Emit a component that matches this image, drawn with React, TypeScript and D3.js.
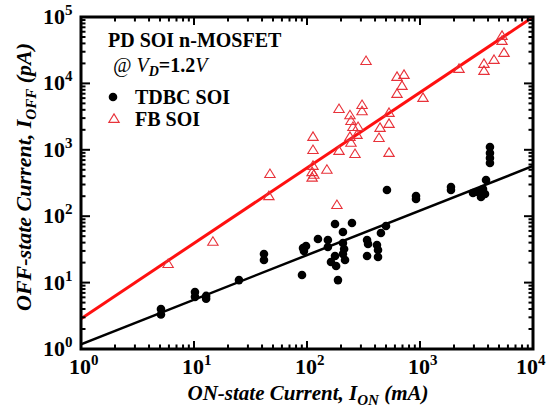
import React from "react";
import * as d3 from "d3";

// FB SOI (red open triangles): [I_ON (mA), I_OFF (pA)]
const fbOn = [5.9, 14.7, 47, 46, 113, 113, 113, 111, 115, 111, 150, 184, 192, 192, 240, 245, 255, 283, 240, 245, 277, 266, 307, 307, 333, 443, 434, 532, 532, 532, 626, 722, 693, 626, 1063, 2215, 3683, 3683, 4520, 5540, 5320, 5320];
const fbOff = [19, 41, 430, 200, 1560, 990, 570, 460, 420, 380, 500, 147, 4100, 960, 3300, 2700, 2200, 2200, 1560, 1270, 1670, 860, 4700, 3800, 21700, 2130, 1500, 3580, 2450, 895, 12500, 13400, 9140, 6920, 6030, 16480, 19600, 15400, 22500, 28700, 51800, 43500];

// TDBC SOI (black filled circles)
const tdbcOn = [5.1, 5.1, 10.2, 10.2, 12.8, 12.8, 25, 41.6, 41.6, 92.2, 94, 98, 90.3, 125, 153, 153, 177, 250, 208, 208, 213, 208, 177, 163, 181, 217, 188, 340, 347, 340, 416, 425, 451, 500, 425, 510, 922, 922, 1880, 1880, 2945, 3260, 3467, 3610, 3840, 3760, 4160, 4160, 4160, 4160];
const tdbcOff = [4.0, 3.3, 7.2, 6.1, 6.3, 5.7, 10.9, 27, 21.9, 33.2, 29.9, 35.6, 13, 45.4, 43.8, 34.4, 76.3, 79, 57.8, 39.5, 32.1, 27, 25.2, 20.4, 17.8, 21.9, 10.9, 43.8, 38.1, 25.2, 36.8, 31, 55.8, 71.2, 24.3, 248, 201, 182, 275, 248, 224, 231, 195, 257, 351, 216, 1100, 895, 753, 633];

// Fit lines: endpoints [x, y]
const fbFitX = [1, 10000];
const fbFitY = [2.86, 100000];
const tdbcFitX = [1, 10000];
const tdbcFitY = [1.18, 570];

const xTickExps = [0, 1, 2, 3, 4];
const yTickExps = [0, 1, 2, 3, 4, 5];

const W = 548, H = 414;
const L = 81, R = 533, T = 17, B = 349;
const RED = "#ff1010";
const TRI = "#e8323a";
const FONT = "'Liberation Serif', 'Times New Roman', serif";

export default function App() {
  const x = d3.scaleLog().domain([1, 1e4]).range([L, R]);
  const y = d3.scaleLog().domain([1, 1e5]).range([B, T]);
  const xt = x.ticks();
  const yt = y.ticks();
  const isMajor = (v: number) => Math.abs(Math.log10(v) - Math.round(Math.log10(v))) < 1e-9;
  const line = d3.line<[number, number]>().x(d => x(d[0])).y(d => y(d[1]));
  const triPath = (cx: number, cy: number) => {
    const s = 5.2, h = 8.5;
    return `M${cx},${cy - h * 0.6}L${cx + s},${cy + h * 0.4}L${cx - s},${cy + h * 0.4}Z`;
  };
  return (
    <svg width={W} height={H} style={{ position: "absolute", left: 0, top: 0, background: "#fff" }} fontFamily={FONT}>
      {/* fit lines */}
      <clipPath id="clip"><rect x={L} y={T} width={R - L} height={B - T} /></clipPath>
      <g clipPath="url(#clip)">
        <path d={line(fbFitX.map((v, i) => [v, fbFitY[i]]) as [number, number][]) || ""} stroke={RED} strokeWidth={3} fill="none" />
        <path d={line(tdbcFitX.map((v, i) => [v, tdbcFitY[i]]) as [number, number][]) || ""} stroke="#000" strokeWidth={2.5} fill="none" />
      </g>
      {/* data */}
      {tdbcOn.map((v, i) => (
        <circle key={"c" + i} cx={x(v)} cy={y(tdbcOff[i])} r={4.3} fill="#000" />
      ))}
      {fbOn.map((v, i) => (
        <path key={"t" + i} d={triPath(x(v), y(fbOff[i]))} fill="none" stroke={TRI} strokeWidth={1.1} />
      ))}
      {/* ticks */}
      {xt.map((v, i) => {
        const len = isMajor(v) ? 8 : 4.5;
        return (
          <g key={"xt" + i} stroke="#000" strokeWidth={2}>
            <line x1={x(v)} x2={x(v)} y1={B} y2={B - len} />
            <line x1={x(v)} x2={x(v)} y1={T} y2={T + len} />
          </g>
        );
      })}
      {yt.map((v, i) => {
        const len = isMajor(v) ? 9 : 4.5;
        return (
          <g key={"yt" + i} stroke="#000" strokeWidth={2}>
            <line x1={L} x2={L + len} y1={y(v)} y2={y(v)} />
            <line x1={R} x2={R - len} y1={y(v)} y2={y(v)} />
          </g>
        );
      })}
      <rect x={L} y={T} width={R - L} height={B - T} fill="none" stroke="#000" strokeWidth={3} />
      {/* tick labels */}
      {xTickExps.map(e => (
        <text key={"xl" + e} x={e === 4 ? 516 : x(Math.pow(10, e)) - 12} y={374} fontSize={22} fontWeight="bold">
          10<tspan dy={-9} fontSize={15}>{e}</tspan>
        </text>
      ))}
      {yTickExps.map(e => (
        <text key={"yl" + e} x={43} y={y(Math.pow(10, e)) + 7} fontSize={22} fontWeight="bold">
          10<tspan dy={-9} fontSize={15}>{e}</tspan>
        </text>
      ))}
      {/* axis titles */}
      <text x={308} y={400} fontSize={21} fontWeight="bold" fontStyle="italic" textAnchor="middle">
        ON-state Current, I<tspan dy={5} fontSize={15}>ON</tspan><tspan dy={-5}> (mA)</tspan>
      </text>
      <text transform={`translate(31,177) rotate(-90)`} fontSize={22} fontWeight="bold" fontStyle="italic" textAnchor="middle">
        OFF-state Current, I<tspan dy={5} fontSize={15}>OFF</tspan><tspan dy={-5}> (pA)</tspan>
      </text>
      {/* annotations */}
      <text x={108} y={47} fontSize={20} fontWeight="bold">PD SOI n-MOSFET</text>
      <text x={113} y={72} fontSize={20}>
        <tspan fontStyle="italic">@ </tspan>
        <tspan fontStyle="italic">V</tspan>
        <tspan dy={4} fontSize={14} fontStyle="italic" fontWeight="bold">D</tspan>
        <tspan dy={-4} fontWeight="bold">=1.2</tspan>
        <tspan fontStyle="italic">V</tspan>
      </text>
      <circle cx={113} cy={97} r={4.3} fill="#000" />
      <text x={135} y={104} fontSize={20} fontWeight="bold">TDBC SOI</text>
      <path d={triPath(114, 119)} fill="none" stroke={TRI} strokeWidth={1.1} />
      <text x={135} y={126} fontSize={20} fontWeight="bold">FB SOI</text>
    </svg>
  );
}
